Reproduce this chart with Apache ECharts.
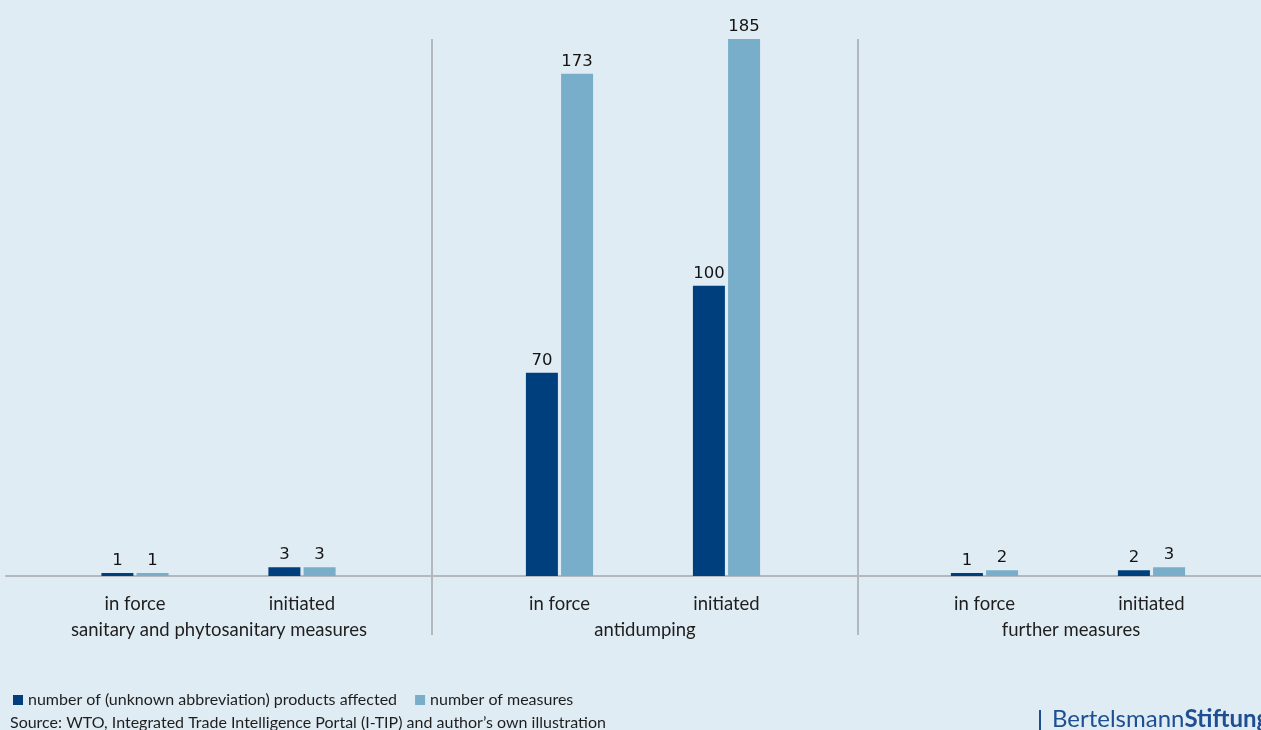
<!DOCTYPE html>
<html>
<head>
<meta charset="utf-8">
<script src="https://cdn.jsdelivr.net/npm/echarts@6/dist/echarts.min.js"></script>
<style>
  html, body { margin: 0; padding: 0; background: #e0ecf4; overflow: hidden; }
  /* the canvas runs past the right window edge so the last group is cut off */
  #chart { width: 1284px; height: 730px; }
</style>
</head>
<body>
<div id="chart"></div>
<script>
// Measure groups and their sub-categories
const groups = ['sanitary and phytosanitary measures', 'antidumping', 'further measures'];
const stages = ['in force', 'initiated'];

// Values per group: [in force, initiated]
const productsAffected = [
  [1, 3],     // sanitary and phytosanitary
  [70, 100],  // antidumping
  [1, 2]      // further measures
];
const measureCounts = [
  [1, 3],
  [173, 185],
  [2, 3]
];

const seriesNames = ['number of (unknown abbreviation) products affected', 'number of measures'];
const sourceText = 'Source: WTO, Integrated Trade Intelligence Portal (I-TIP) and author\u2019s own illustration';

const DARK = '#003f7d';
const LIGHT = '#78aec9';
const AXIS_GREY = '#b3b8bd';
const TEXT = '#1e1e1e';
const FONT = 'Lato';

const TOP = 39, BOTTOM = 154;
const GROUP_LEFT = 6, GROUP_W = 426;
const Y_MAX = 185;

const grids = [{ left: GROUP_LEFT, width: GROUP_W * 3, top: TOP, bottom: BOTTOM }];
const xAxes = [{
  type: 'category', gridIndex: 0, data: groups,
  axisLine: { show: true, lineStyle: { color: AXIS_GREY, width: 2 } },
  axisTick: { show: true, length: 59, interval: (i) => i > 0, lineStyle: { color: AXIS_GREY, width: 2 } },
  splitLine: { show: true, interval: (i) => i > 0, lineStyle: { color: AXIS_GREY, width: 2 } },
  axisLabel: { margin: 45, fontFamily: FONT, fontSize: 18.5, color: TEXT }
}];
const yAxes = [{ type: 'value', gridIndex: 0, min: 0, max: Y_MAX, show: false }];
const series = [];

// offset of the first sub-category centre inside each group
const stageOffsets = [129, 127.5, 126.5];

groups.forEach((g, k) => {
  const gi = k + 1;
  grids.push({ left: GROUP_LEFT + GROUP_W * k + stageOffsets[k] - 83.5, width: 334, top: TOP, bottom: BOTTOM });
  xAxes.push({
    type: 'category', gridIndex: gi, data: stages,
    axisLine: { show: false }, axisTick: { show: false },
    axisLabel: { margin: 19, fontFamily: FONT, fontSize: 18.5, color: TEXT }
  });
  yAxes.push({ type: 'value', gridIndex: gi, min: 0, max: Y_MAX, show: false, splitLine: { show: false } });
  const label = {
    show: true, position: 'top', distance: 4,
    fontFamily: 'DejaVu Sans', fontSize: 16.5, color: '#141414'
  };
  series.push({
    name: seriesNames[0], type: 'bar', xAxisIndex: gi, yAxisIndex: gi,
    data: productsAffected[k], barWidth: 32, barGap: '10%',
    itemStyle: { color: DARK }, label
  });
  series.push({
    name: seriesNames[1], type: 'bar', xAxisIndex: gi, yAxisIndex: gi,
    data: measureCounts[k], barWidth: 32, barGap: '10%',
    itemStyle: { color: LIGHT }, label
  });
});

const chart = echarts.init(document.getElementById('chart'));
chart.setOption({
  backgroundColor: '#e0ecf4',
  animation: false,
  grid: grids,
  xAxis: xAxes,
  yAxis: yAxes,
  series,
  legend: {
    data: seriesNames,
    left: 8, top: 692,
    icon: 'rect', itemWidth: 10, itemHeight: 10, itemGap: 18, padding: [0, 5],
    textStyle: { fontFamily: FONT, fontSize: 16, color: TEXT }
  },
  graphic: [
    {
      type: 'text', left: 10, top: 715,
      style: { text: sourceText, fontFamily: FONT, fontSize: 16, fill: TEXT }
    },
    {
      type: 'rect', left: 1039, top: 710, shape: { width: 2, height: 20 },
      style: { fill: '#1d4f91' }
    },
    {
      type: 'text', left: 1052, top: 707,
      style: {
        text: '{a|Bertelsmann}{b|Stiftung}',
        rich: {
          a: { fontFamily: FONT, fontSize: 24, fill: '#1d4f91', letterSpacing: 0.6 },
          b: { fontFamily: FONT, fontSize: 24, fontWeight: 'bold', fill: '#1d4f91', letterSpacing: 0.6 }
        }
      }
    }
  ]
});
</script>
</body>
</html>
